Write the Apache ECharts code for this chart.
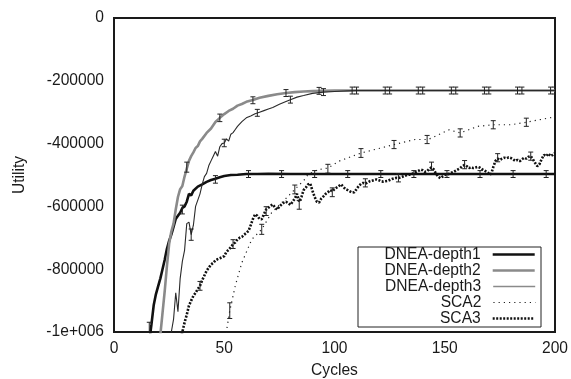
<!DOCTYPE html>
<html>
<head>
<meta charset="utf-8">
<script src="https://cdn.jsdelivr.net/npm/echarts@6/dist/echarts.min.js"></script>
<style>html,body{margin:0;padding:0;background:#fff}#c{width:571px;height:379px}</style>
</head>
<body>
<div id="c"></div>
<script>
// ---------- data ----------
const xTicks = [0, 50, 100, 150, 200];
const yTicks = [0, -200000, -400000, -600000, -800000, -1000000];
const yTickLabels = ['0', '-200000', '-400000', '-600000', '-800000', '-1e+006'];
const seriesNames = ['DNEA-depth1', 'DNEA-depth2', 'DNEA-depth3', 'SCA2', 'SCA3'];

const depth1Cycles = [16,17,18,19,20,21,22,23,24,25,26,27,28,29,30,31,32,33,34,35,36,38,40,42,44,46,48,50,53,56,60,65,70,80,90,100,120,140,160,180,200];
const depth1Utility = [-1030000,-975000,-915000,-880000,-855000,-830000,-800000,-770000,-735000,-710000,-690000,-665000,-640000,-630000,-620000,-605000,-600000,-585000,-560000,-565000,-550000,-537000,-530000,-522000,-516000,-512000,-507000,-503000,-500000,-499000,-497000,-497000,-496000,-497000,-497000,-497000,-497000,-497000,-497000,-497000,-497000];

const depth2Cycles = [20,21,22,23,24,25,26,27,28,29,30,31,32,33,34,35,36,37,38,39,40,42,44,46,48,50,52,54,56,58,60,63,66,70,74,78,82,86,90,95,100,110,200];
const depth2Utility = [-1060000,-1010000,-940000,-870000,-790000,-720000,-680000,-655000,-610000,-570000,-545000,-535000,-505000,-480000,-455000,-440000,-428000,-414000,-408000,-393000,-385000,-366000,-352000,-331000,-318000,-306000,-296000,-289000,-279000,-274000,-267000,-261000,-254000,-248000,-243000,-239000,-236000,-234000,-233000,-232000,-231000,-231000,-231000];

const depth3Cycles = [25,26,27,28,29,30,31,32,33,34,35,36,37,38,39,40,41,42,43,44,45,46,47,48,49,50,51,52,53,54,55,56,58,60,62,64,66,68,70,72,75,78,80,83,86,90,95,100,106,110,200];
const depth3Utility = [-1060000,-1000000,-960000,-875000,-935000,-830000,-775000,-740000,-655000,-650000,-690000,-660000,-600000,-580000,-560000,-530000,-505000,-495000,-470000,-455000,-440000,-425000,-440000,-410000,-400000,-398000,-385000,-392000,-370000,-365000,-355000,-345000,-330000,-318000,-312000,-305000,-300000,-295000,-290000,-285000,-275000,-266000,-260000,-252000,-247000,-240000,-236000,-234000,-232000,-231000,-231000];

const sca2Cycles = [50.5,52.5,55,58,62.5,67,71.5,77.5,82,86.5,88,92.5,97,102,112,121,127,136.5,142.5,152,157,165,172,180,187,197.5,200];
const sca2Utility = [-1020000,-932000,-853000,-779000,-705000,-673000,-620000,-578000,-546000,-514000,-498000,-483000,-478000,-456000,-430000,-414000,-403000,-387000,-387000,-356000,-366000,-345000,-340000,-340000,-332000,-318000,-315000];

const sca3FirstCycle = 30; // one value per cycle from here to 200
const sca3Utility = [
 -1030000,-1000000,-970000,-945000,-916000,-900000,-885000,-875000,-863000,-853000,
 -835000,-820000,-805000,-795000,-785000,-780000,-772000,-768000,-765000,-762000,
 -758000,-745000,-738000,-730000,-720000,-715000,-705000,-700000,-697000,-690000,
 -685000,-678000,-660000,-640000,-625000,-630000,-640000,-641000,-625000,-610000,
 -604000,-598000,-594000,-603000,-610000,-600000,-594000,-588000,-585000,-590000,
 -595000,-585000,-575000,-560000,-585000,-570000,-548000,-540000,-530000,-527000,
 -550000,-570000,-585000,-588000,-575000,-568000,-560000,-555000,-548000,-552000,
 -545000,-540000,-535000,-530000,-538000,-545000,-548000,-552000,-556000,-555000,
 -545000,-535000,-528000,-525000,-528000,-524000,-520000,-518000,-516000,-514000,
 -516000,-520000,-521000,-520000,-519000,-516000,-513000,-511000,-509000,-510000,
 -508000,-505000,-502000,-500000,-499000,-498000,-494000,-490000,-487000,-483000,
 -485000,-490000,-488000,-480000,-476000,-482000,-495000,-505000,-510000,-505000,
 -500000,-498000,-496000,-493000,-490000,-486000,-482000,-478000,-472000,-468000,
 -472000,-478000,-475000,-478000,-476000,-474000,-477000,-482000,-486000,-490000,
 -495000,-498000,-475000,-455000,-448000,-452000,-448000,-445000,-447000,-444000,
 -446000,-450000,-455000,-452000,-456000,-450000,-445000,-448000,-442000,-440000,
 -450000,-462000,-472000,-465000,-448000,-436000,-440000,-432000,-440000,-436000,
 -430000];

// error bars: cycle, mean, half-height
const depth1ErrCycles = [16,31,46,61,76,91,106,121,136,151,166,181,196];
const depth1ErrMean = [-985000,-610000,-514000,-497000,-497000,-497000,-497000,-497000,-497000,-497000,-497000,-497000,-497000];
const depth1ErrHalf = [16000,14000,12000,11000,11000,11000,11000,11000,11000,11000,11000,11000,11000];

const depth2ErrCycles = [33,48,63,78,93,108,123,138,153,168,183,198];
const depth2ErrMean = [-475000,-318000,-262000,-239000,-232000,-231000,-231000,-231000,-231000,-231000,-231000,-231000];
const depth2ErrHalf = [16000,12000,11000,11000,11000,11000,11000,11000,11000,11000,11000,11000];

const depth3ErrCycles = [35,50,65,80,95,110,125,140,155,170,185,200];
const depth3ErrMean = [-690000,-398000,-302000,-260000,-236000,-231000,-231000,-231000,-231000,-231000,-231000,-231000];
const depth3ErrHalf = [18000,12000,11000,11000,11000,11000,11000,11000,11000,11000,11000,11000];

const sca2ErrCycles = [52.5,67,82,97,112,127,142,157,172,187];
const sca2ErrMean = [-932000,-673000,-546000,-480000,-430000,-403000,-387000,-366000,-340000,-332000];
const sca2ErrHalf = [25000,16000,14000,14000,14000,13000,13000,13000,13000,13000];

const sca3ErrCycles = [39,54,69,84,99,114,129,144,159,174,189];
const sca3ErrMean = [-853000,-720000,-615000,-595000,-555000,-525000,-509000,-472000,-467000,-445000,-440000];
const sca3ErrHalf = [14000,14000,14000,14000,14000,13000,13000,13000,13000,13000,13000];

// ---------- build ----------
const pairs = (xs, ys) => xs.map((x, i) => [x, ys[i]]);
const sca3Data = sca3Utility.map((v, i) => [sca3FirstCycle + i, v]);
const errData = [];
[[depth1ErrCycles, depth1ErrMean, depth1ErrHalf],
 [depth2ErrCycles, depth2ErrMean, depth2ErrHalf],
 [depth3ErrCycles, depth3ErrMean, depth3ErrHalf],
 [sca2ErrCycles, sca2ErrMean, sca2ErrHalf],
 [sca3ErrCycles, sca3ErrMean, sca3ErrHalf]].forEach(([xs, ms, hs]) => {
  xs.forEach((x, i) => errData.push([x, ms[i] - hs[i], ms[i] + hs[i]]));
});

const FONT = 'Liberation Sans';
const FS = 15.6;
const TXT = '#1a1a1a';

const styles = [
  { color: '#111111', width: 2.6, type: 'solid' },
  { color: '#8a8a8a', width: 2.6, type: 'solid' },
  { color: '#2a2a2a', width: 1.1, type: 'solid' },
  { color: '#222222', width: 1.2, type: [1.2, 4] },
  { color: '#111111', width: 2.6, type: [2, 1.5] }
];
const legendLineColors = ['#111111', '#8a8a8a', '#8a8a8a', '#222222', '#111111'];
const datasets = [pairs(depth1Cycles, depth1Utility), pairs(depth2Cycles, depth2Utility),
  pairs(depth3Cycles, depth3Utility), pairs(sca2Cycles, sca2Utility), sca3Data];

const series = seriesNames.map((name, i) => ({
  name, type: 'line', data: datasets[i], symbol: 'none', showSymbol: false,
  clip: true, animation: false, z: 3,
  lineStyle: { color: styles[i].color, width: styles[i].width, type: styles[i].type },
  itemStyle: { color: styles[i].color }
}));
series.push({
  type: 'custom', name: 'err', data: errData, clip: true, animation: false, z: 4,
  encode: { x: 0, y: [1, 2] },
  renderItem: (params, api) => {
    const x = api.value(0);
    const lo = api.coord([x, api.value(1)]);
    const hi = api.coord([x, api.value(2)]);
    const w = 2.5;
    const st = { stroke: '#222', lineWidth: 1 };
    return { type: 'group', children: [
      { type: 'line', shape: { x1: lo[0], y1: lo[1], x2: hi[0], y2: hi[1] }, style: st },
      { type: 'line', shape: { x1: lo[0] - w, y1: lo[1], x2: lo[0] + w, y2: lo[1] }, style: st },
      { type: 'line', shape: { x1: hi[0] - w, y1: hi[1], x2: hi[0] + w, y2: hi[1] }, style: st }
    ]};
  }
});

const rowCenters = [255.5, 271.5, 287.5, 303.5, 319.5];
const legends = seriesNames.map((name, i) => ({
  data: [name], orient: 'vertical', align: 'right', right: 35, top: rowCenters[i] - 9,
  padding: 0, itemWidth: 42, itemHeight: 14, selectedMode: false, z: 10,
  itemStyle: { opacity: 0, borderWidth: 0 },
  lineStyle: { color: legendLineColors[i], width: i === 2 ? 1.6 : styles[i].width },
  textStyle: { fontFamily: FONT, fontSize: FS, color: TXT, padding: [0, 7, 0, 0] }
}));

const chart = echarts.init(document.getElementById('c'), null, { renderer: 'canvas' });
chart.setOption({
  animation: false,
  backgroundColor: '#fff',
  grid: { left: 114, right: 16, top: 18, bottom: 47, show: true, borderColor: '#1a1a1a', borderWidth: 2,
    backgroundColor: 'transparent', outerBoundsMode: 'none', containLabel: false },
  xAxis: {
    type: 'value', min: xTicks[0], max: xTicks[xTicks.length - 1], interval: 50,
    name: 'Cycles', nameLocation: 'middle', nameGap: 31,
    nameTextStyle: { fontFamily: FONT, fontSize: FS, color: TXT },
    axisLine: { show: false }, axisTick: { show: false }, splitLine: { show: false },
    axisLabel: { fontFamily: FONT, fontSize: FS, color: TXT, margin: 9 }
  },
  yAxis: {
    type: 'value', min: yTicks[yTicks.length - 1], max: yTicks[0], interval: 200000,
    name: 'Utility', nameLocation: 'middle', nameGap: 86,
    nameTextStyle: { fontFamily: FONT, fontSize: FS, color: TXT },
    axisLine: { show: false }, axisTick: { show: false }, splitLine: { show: false },
    axisLabel: { fontFamily: FONT, fontSize: FS, color: TXT, margin: 10,
      formatter: v => { const k = yTicks.indexOf(v); return k >= 0 ? yTickLabels[k] : ''; } }
  },
  legend: legends,
  graphic: [{ type: 'rect', z: 8, shape: { x: 358, y: 247, width: 183, height: 80 },
    style: { fill: '#fff', stroke: '#222', lineWidth: 1 } }],
  series
});
</script>
</body>
</html>
